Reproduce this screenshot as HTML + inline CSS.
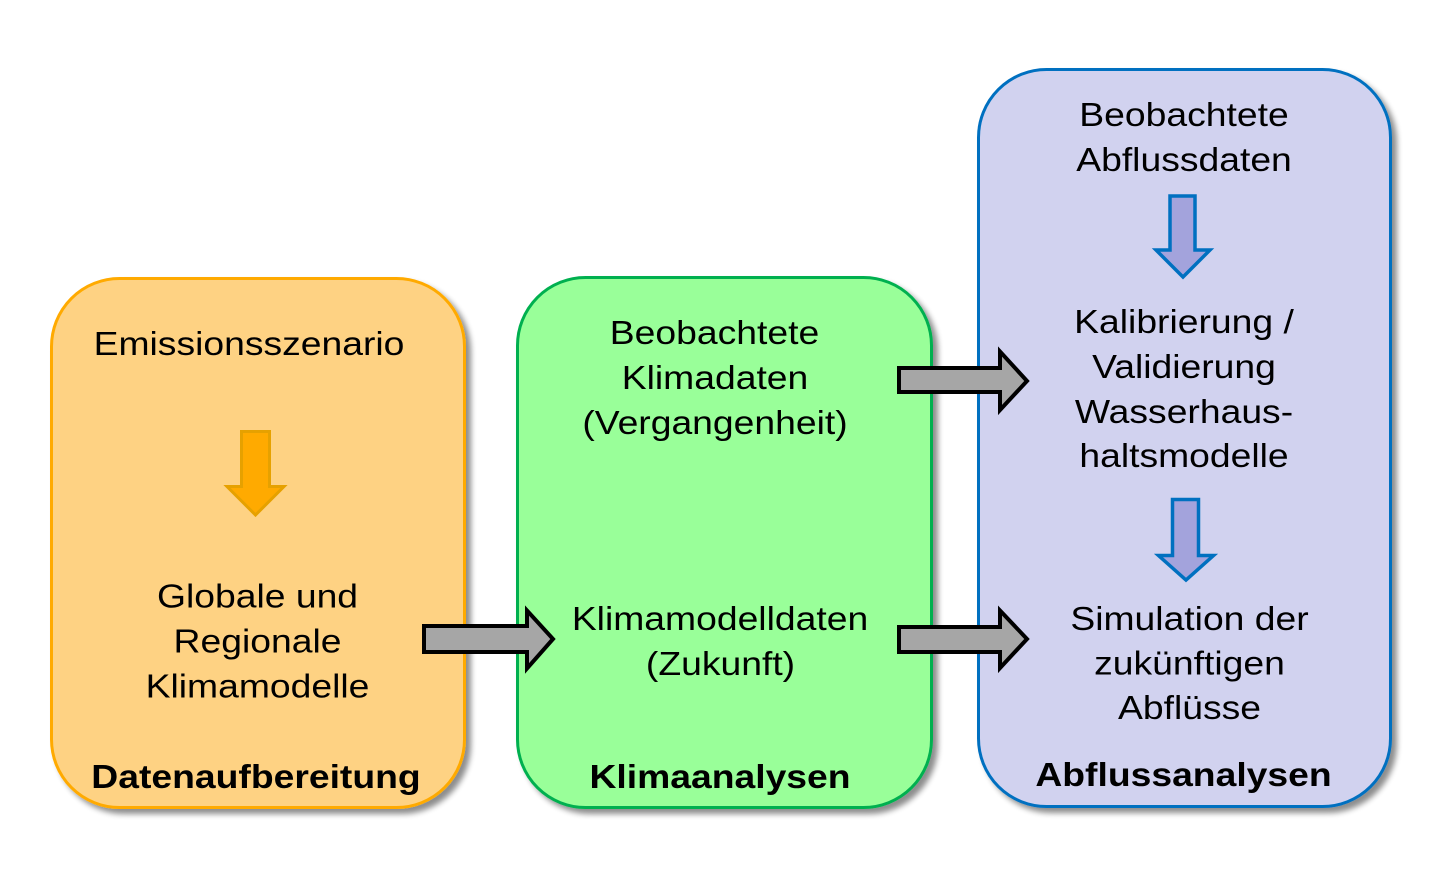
<!DOCTYPE html>
<html>
<head>
<meta charset="utf-8">
<style>
  html, body { margin:0; padding:0; background:#ffffff; }
  body { width:1447px; height:892px; overflow:hidden; }
  svg { display:block; }
  text { font-family: "Liberation Sans", Arial, sans-serif; font-size:37.3px; fill:#000; }
  .b { font-weight:bold; }
</style>
</head>
<body>
<svg width="1447" height="892" viewBox="0 0 1447 892" xmlns="http://www.w3.org/2000/svg">
  <defs>
    <filter id="sh" x="-10%" y="-10%" width="125%" height="125%">
      <feGaussianBlur in="SourceAlpha" stdDeviation="3"/>
      <feOffset dx="5" dy="5" result="o"/>
      <feComponentTransfer><feFuncA type="linear" slope="0.45"/></feComponentTransfer>
      <feMerge><feMergeNode/><feMergeNode in="SourceGraphic"/></feMerge>
    </filter>
  </defs>

  <!-- Boxes -->
  <rect x="51.5" y="278.5" width="413" height="529" rx="68" ry="68" fill="#fed283" stroke="#ffaa00" stroke-width="3" filter="url(#sh)"/>
  <rect x="517.5" y="277.5" width="414" height="530" rx="68" ry="68" fill="#99ff99" stroke="#00b050" stroke-width="3" filter="url(#sh)"/>
  <rect x="978.5" y="69.5" width="412" height="737" rx="68" ry="68" fill="#d1d2ef" stroke="#0070c0" stroke-width="3" filter="url(#sh)"/>

  <!-- Orange down arrow -->
  <polygon points="241.5,431.5 269.5,431.5 269.5,486.5 284,486.5 255.5,515 227,486.5 241.5,486.5" fill="#ffaa00" stroke="#e6a100" stroke-width="3" stroke-linejoin="miter"/>

  <!-- Blue down arrows -->
  <polygon points="1170,196 1195,196 1195,250 1210,250 1183,277 1156,250 1170,250" fill="#a3a3dc" stroke="#0070c0" stroke-width="3.5"/>
  <polygon points="1172.5,499.5 1198.5,499.5 1198.5,555.5 1213.5,555.5 1186,580 1158.5,555.5 1172.5,555.5" fill="#a3a3dc" stroke="#0070c0" stroke-width="3.5"/>

  <!-- Gray right arrows -->
  <polygon points="424,626 527,626 527,610.5 553,639 527,668.5 527,652 424,652" fill="#a6a6a6" stroke="#000" stroke-width="4"/>
  <polygon points="899,368 1000,368 1000,351.5 1027,381 1000,410 1000,392 899,392" fill="#a6a6a6" stroke="#000" stroke-width="4"/>
  <polygon points="899,627 1000,627 1000,610.5 1027,639 1000,668 1000,652 899,652" fill="#a6a6a6" stroke="#000" stroke-width="4"/>

  <!-- Orange texts -->
  <text text-anchor="middle" transform="translate(249,355) scale(1,0.9)">Emissionsszenario</text>
  <text text-anchor="middle" transform="translate(257.5,607.5) scale(1,0.9)">Globale und</text>
  <text text-anchor="middle" transform="translate(257.5,652.5) scale(1,0.9)">Regionale</text>
  <text text-anchor="middle" transform="translate(257.5,697.5) scale(1,0.9)">Klimamodelle</text>
  <text class="b" text-anchor="middle" transform="translate(256,788) scale(1,0.9)">Datenaufbereitung</text>

  <!-- Green texts -->
  <text text-anchor="middle" transform="translate(714.5,344) scale(1,0.9)">Beobachtete</text>
  <text text-anchor="middle" transform="translate(715,389) scale(1,0.9)">Klimadaten</text>
  <text text-anchor="middle" transform="translate(715,434) scale(1,0.9)">(Vergangenheit)</text>
  <text text-anchor="middle" transform="translate(720,630) scale(1,0.9)">Klimamodelldaten</text>
  <text text-anchor="middle" transform="translate(720.5,675) scale(1,0.9)">(Zukunft)</text>
  <text class="b" text-anchor="middle" transform="translate(720,788) scale(1,0.9)">Klimaanalysen</text>

  <!-- Blue texts -->
  <text text-anchor="middle" transform="translate(1184,126) scale(1,0.9)">Beobachtete</text>
  <text text-anchor="middle" transform="translate(1184,171) scale(1,0.9)">Abflussdaten</text>
  <text text-anchor="middle" transform="translate(1184,333) scale(1,0.9)">Kalibrierung /</text>
  <text text-anchor="middle" transform="translate(1184,378) scale(1,0.9)">Validierung</text>
  <text text-anchor="middle" transform="translate(1184,423) scale(1,0.9)">Wasserhaus-</text>
  <text text-anchor="middle" transform="translate(1184,467) scale(1,0.9)">haltsmodelle</text>
  <text text-anchor="middle" transform="translate(1189.5,630) scale(1,0.9)">Simulation der</text>
  <text text-anchor="middle" transform="translate(1189.5,674.5) scale(1,0.9)">zukünftigen</text>
  <text text-anchor="middle" transform="translate(1189.5,719) scale(1,0.9)">Abflüsse</text>
  <text class="b" text-anchor="middle" transform="translate(1183.5,786) scale(1,0.9)">Abflussanalysen</text>
</svg>
</body>
</html>
